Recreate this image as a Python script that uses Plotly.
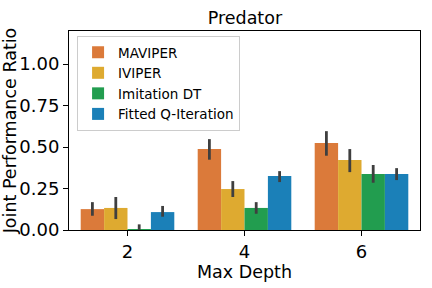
import plotly.graph_objects as go

depths = ["2", "4", "6"]
methods = ["MAVIPER", "IVIPER", "Imitation DT", "Fitted Q-Iteration"]
colors = ["#DB7A3A", "#DEAA30", "#229D4F", "#1B80B8"]

means = {
    "MAVIPER": [0.126, 0.488, 0.524],
    "IVIPER": [0.133, 0.247, 0.422],
    "Imitation DT": [0.006, 0.133, 0.337],
    "Fitted Q-Iteration": [0.108, 0.325, 0.337],
}
upper = {
    "MAVIPER": [0.168, 0.548, 0.596],
    "IVIPER": [0.199, 0.295, 0.488],
    "Imitation DT": [0.034, 0.168, 0.392],
    "Fitted Q-Iteration": [0.145, 0.355, 0.373],
}
lower = {
    "MAVIPER": [0.086, 0.424, 0.448],
    "IVIPER": [0.066, 0.199, 0.349],
    "Imitation DT": [0.0, 0.098, 0.285],
    "Fitted Q-Iteration": [0.080, 0.289, 0.301],
}

FONT = "DejaVu Sans"
fig = go.Figure()
for i, m in enumerate(methods):
    plus = [u - v for u, v in zip(upper[m], means[m])]
    minus = [v - l for v, l in zip(means[m], lower[m])]
    fig.add_trace(go.Bar(
        x=depths, y=means[m], name=m, legendgroup=m,
        marker=dict(color=colors[i], line=dict(width=0)),
        error_y=dict(type="data", symmetric=False, array=plus, arrayminus=minus,
                     color="#3f3f3f", thickness=2.8, width=0),
    ))

fig.update_layout(
    width=432, height=288,
    margin=dict(l=69, r=12, t=31, b=58, autoexpand=False),
    paper_bgcolor="white", plot_bgcolor="white",
    barmode="group", bargap=0.2, bargroupgap=0,
    font=dict(family=FONT, color="black"),
    title=dict(text="Predator", x=0.567, xanchor="center", y=0.9375, yanchor="middle",
               font=dict(size=17.5, family=FONT, color="black")),
    legend=dict(x=0.023, y=0.975, xanchor="left", yanchor="top",
                bgcolor="rgba(255,255,255,0.8)", bordercolor="#cccccc", borderwidth=1,
                font=dict(size=13.5, family=FONT), tracegroupgap=0),
    showlegend=True,
)
fig.update_xaxes(
    type="category", range=[-0.5, 2.5], automargin=False,
    showline=True, linecolor="black", linewidth=1, mirror=True,
    ticks="outside", ticklen=5, tickcolor="black", tickfont=dict(size=18),
    title=dict(text="Max Depth", font=dict(size=17.5), standoff=2),
    showgrid=False,
)
fig.update_yaxes(
    range=[0, 1.2], tickvals=[0, 0.25, 0.5, 0.75, 1.0], tickformat=".2f",
    automargin=False,
    showline=True, linecolor="black", linewidth=1, mirror=True,
    ticks="outside", ticklen=5, tickcolor="black", tickfont=dict(size=18),
    title=dict(text="Joint Performance Ratio", font=dict(size=17.5), standoff=4),
    showgrid=False, zeroline=False,
)
fig.write_html(
    "out.html",
    config={"displayModeBar": False},
    post_script="document.body.style.margin='0';document.body.style.padding='0';",
)
